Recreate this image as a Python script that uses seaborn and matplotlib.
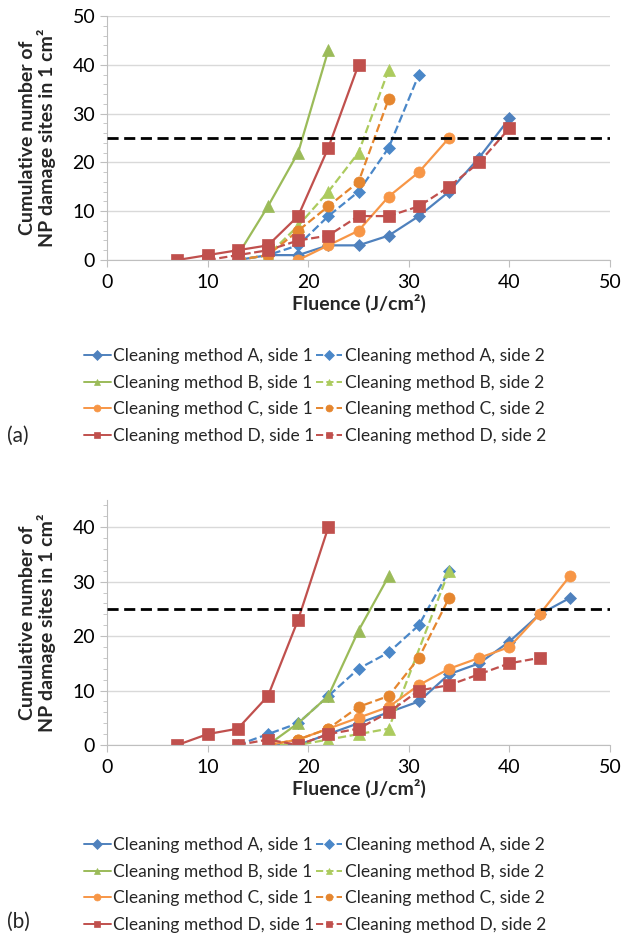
import numpy as np
import pandas as pd
import seaborn as sns
import matplotlib.pyplot as plt
from matplotlib.ticker import MultipleLocator

sns.set_style('white')
plt.rcParams['font.family'] = ['Lato', 'DejaVu Sans']

# panel (a) data: fluence (J/cm2) and cumulative number of sites
a_A1_x = [13, 16, 19, 22, 25, 28, 31, 34, 37, 40]
a_A1_y = [0, 1, 1, 3, 3, 5, 9, 14, 21, 29]
a_A2_x = [13, 16, 19, 22, 25, 28, 31]
a_A2_y = [0, 1, 3, 9, 14, 23, 38]
a_B1_x = [13, 16, 19, 22]
a_B1_y = [1, 11, 22, 43]
a_B2_x = [13, 16, 19, 22, 25, 28]
a_B2_y = [0, 1, 7, 14, 22, 39]
a_C1_x = [19, 22, 25, 28, 31, 34]
a_C1_y = [0, 3, 6, 13, 18, 25]
a_C2_x = [13, 16, 19, 22, 25, 28]
a_C2_y = [0, 1, 6, 11, 16, 33]
a_D1_x = [7, 10, 13, 16, 19, 22, 25]
a_D1_y = [0, 1, 2, 3, 9, 23, 40]
a_D2_x = [10, 13, 16, 19, 22, 25, 28, 31, 34, 37, 40]
a_D2_y = [0, 1, 2, 4, 5, 9, 9, 11, 15, 20, 27]

# panel (b) data
b_A1_x = [16, 19, 22, 25, 28, 31, 34, 37, 40, 43, 46]
b_A1_y = [0, 0, 2, 4, 6, 8, 13, 15, 19, 24, 27]
b_A2_x = [13, 16, 19, 22, 25, 28, 31, 34]
b_A2_y = [0, 2, 4, 9, 14, 17, 22, 32]
b_B1_x = [16, 19, 22, 25, 28]
b_B1_y = [0, 4, 9, 21, 31]
b_B2_x = [16, 19, 22, 25, 28, 34]
b_B2_y = [0, 0, 1, 2, 3, 32]
b_C1_x = [16, 19, 22, 25, 28, 31, 34, 37, 40, 43, 46]
b_C1_y = [0, 1, 3, 5, 7, 11, 14, 16, 18, 24, 31]
b_C2_x = [16, 19, 22, 25, 28, 31, 34]
b_C2_y = [0, 1, 3, 7, 9, 16, 27]
b_D1_x = [7, 10, 13, 16, 19, 22]
b_D1_y = [0, 2, 3, 9, 23, 40]
b_D2_x = [13, 16, 19, 22, 25, 28, 31, 34, 37, 40, 43]
b_D2_y = [0, 1, 0, 2, 3, 6, 10, 11, 13, 15, 16]

threshold = 25

labels = ['Cleaning method A, side 1', 'Cleaning method A, side 2',
          'Cleaning method B, side 1', 'Cleaning method B, side 2',
          'Cleaning method C, side 1', 'Cleaning method C, side 2',
          'Cleaning method D, side 1', 'Cleaning method D, side 2']
colors = ['#4F81BD', '#4A87C8', '#9BBB59', '#ACCB5E',
          '#F79646', '#E5862F', '#C0504D', '#C0504D']
markers = ['D', 'D', '^', '^', 'o', 'o', 's', 's']
msizes = [6, 6, 8, 8, 8, 8, 8, 8]
styles = ['-', '--'] * 4

panel_a = [(a_A1_x, a_A1_y), (a_A2_x, a_A2_y), (a_B1_x, a_B1_y), (a_B2_x, a_B2_y),
           (a_C1_x, a_C1_y), (a_C2_x, a_C2_y), (a_D1_x, a_D1_y), (a_D2_x, a_D2_y)]
panel_b = [(b_A1_x, b_A1_y), (b_A2_x, b_A2_y), (b_B1_x, b_B1_y), (b_B2_x, b_B2_y),
           (b_C1_x, b_C1_y), (b_C2_x, b_C2_y), (b_D1_x, b_D1_y), (b_D2_x, b_D2_y)]

fig = plt.figure(figsize=(6.23, 9.38), dpi=100)
ax_a = fig.add_axes([107/623, 1-260/938, 503/623, 244/938])
ax_b = fig.add_axes([107/623, 1-745/938, 503/623, 245/938])


def draw(ax, series, ymax):
    for i, (xs, ys) in enumerate(series):
        sns.lineplot(x=xs, y=ys, ax=ax, color=colors[i], marker=markers[i],
                     markersize=msizes[i], markeredgecolor=colors[i], markeredgewidth=0.5,
                     linestyle=styles[i], linewidth=1.6, label=labels[i], legend=False)
    ax.axhline(threshold, color='black', linestyle=(0, (4, 2)), linewidth=2, zorder=5)
    ax.set_xlim(0, 50)
    ax.set_ylim(0, ymax)
    ax.xaxis.set_major_locator(MultipleLocator(10))
    ax.yaxis.set_major_locator(MultipleLocator(10))
    ax.yaxis.set_minor_locator(MultipleLocator(2))
    ax.grid(axis='y', color='#D9D9D9', linewidth=1)
    ax.set_axisbelow(True)
    for s in ['top', 'right']:
        ax.spines[s].set_visible(False)
    for s in ['left', 'bottom']:
        ax.spines[s].set_color('#BFBFBF')
    ax.tick_params(axis='both', labelsize=14, colors='#BFBFBF', labelcolor='black')
    ax.tick_params(axis='y', which='major', direction='out', length=5, left=True)
    ax.tick_params(axis='y', which='minor', direction='out', length=3, left=True, colors='#BFBFBF')
    ax.tick_params(axis='x', which='major', direction='out', length=5, bottom=True, pad=5)
    ax.set_xlabel('Fluence (J/cm²)', fontsize=14, fontweight='bold', labelpad=2)
    ax.set_ylabel('Cumulative number of\nNP damage sites in 1 cm²', fontsize=14,
                  fontweight='bold', labelpad=12, linespacing=1.05)
    h, l = ax.get_legend_handles_labels()
    order = [0, 2, 4, 6, 1, 3, 5, 7]
    return [h[k] for k in order], [l[k] for k in order]


for ax, series, ymax, ly, tag, ty in [(ax_a, panel_a, 50, 1-396/938, '(a)', 1-436/938),
                                      (ax_b, panel_b, 45, 1-885/938, '(b)', 1-922/938)]:
    h, l = draw(ax, series, ymax)
    leg = fig.legend(h, l, loc='center', bbox_to_anchor=(0.506, ly), ncol=2, frameon=False,
                     fontsize=12.5, handlelength=1.5, handletextpad=0.15, columnspacing=0.1,
                     labelspacing=0.62)
    for ln in leg.get_lines():
        ln.set_markersize(5)
        ln.set_linewidth(1.4)
    fig.text(0.012, ty, tag, fontsize=15, va='center')

fig.savefig('out.png', dpi=100)
